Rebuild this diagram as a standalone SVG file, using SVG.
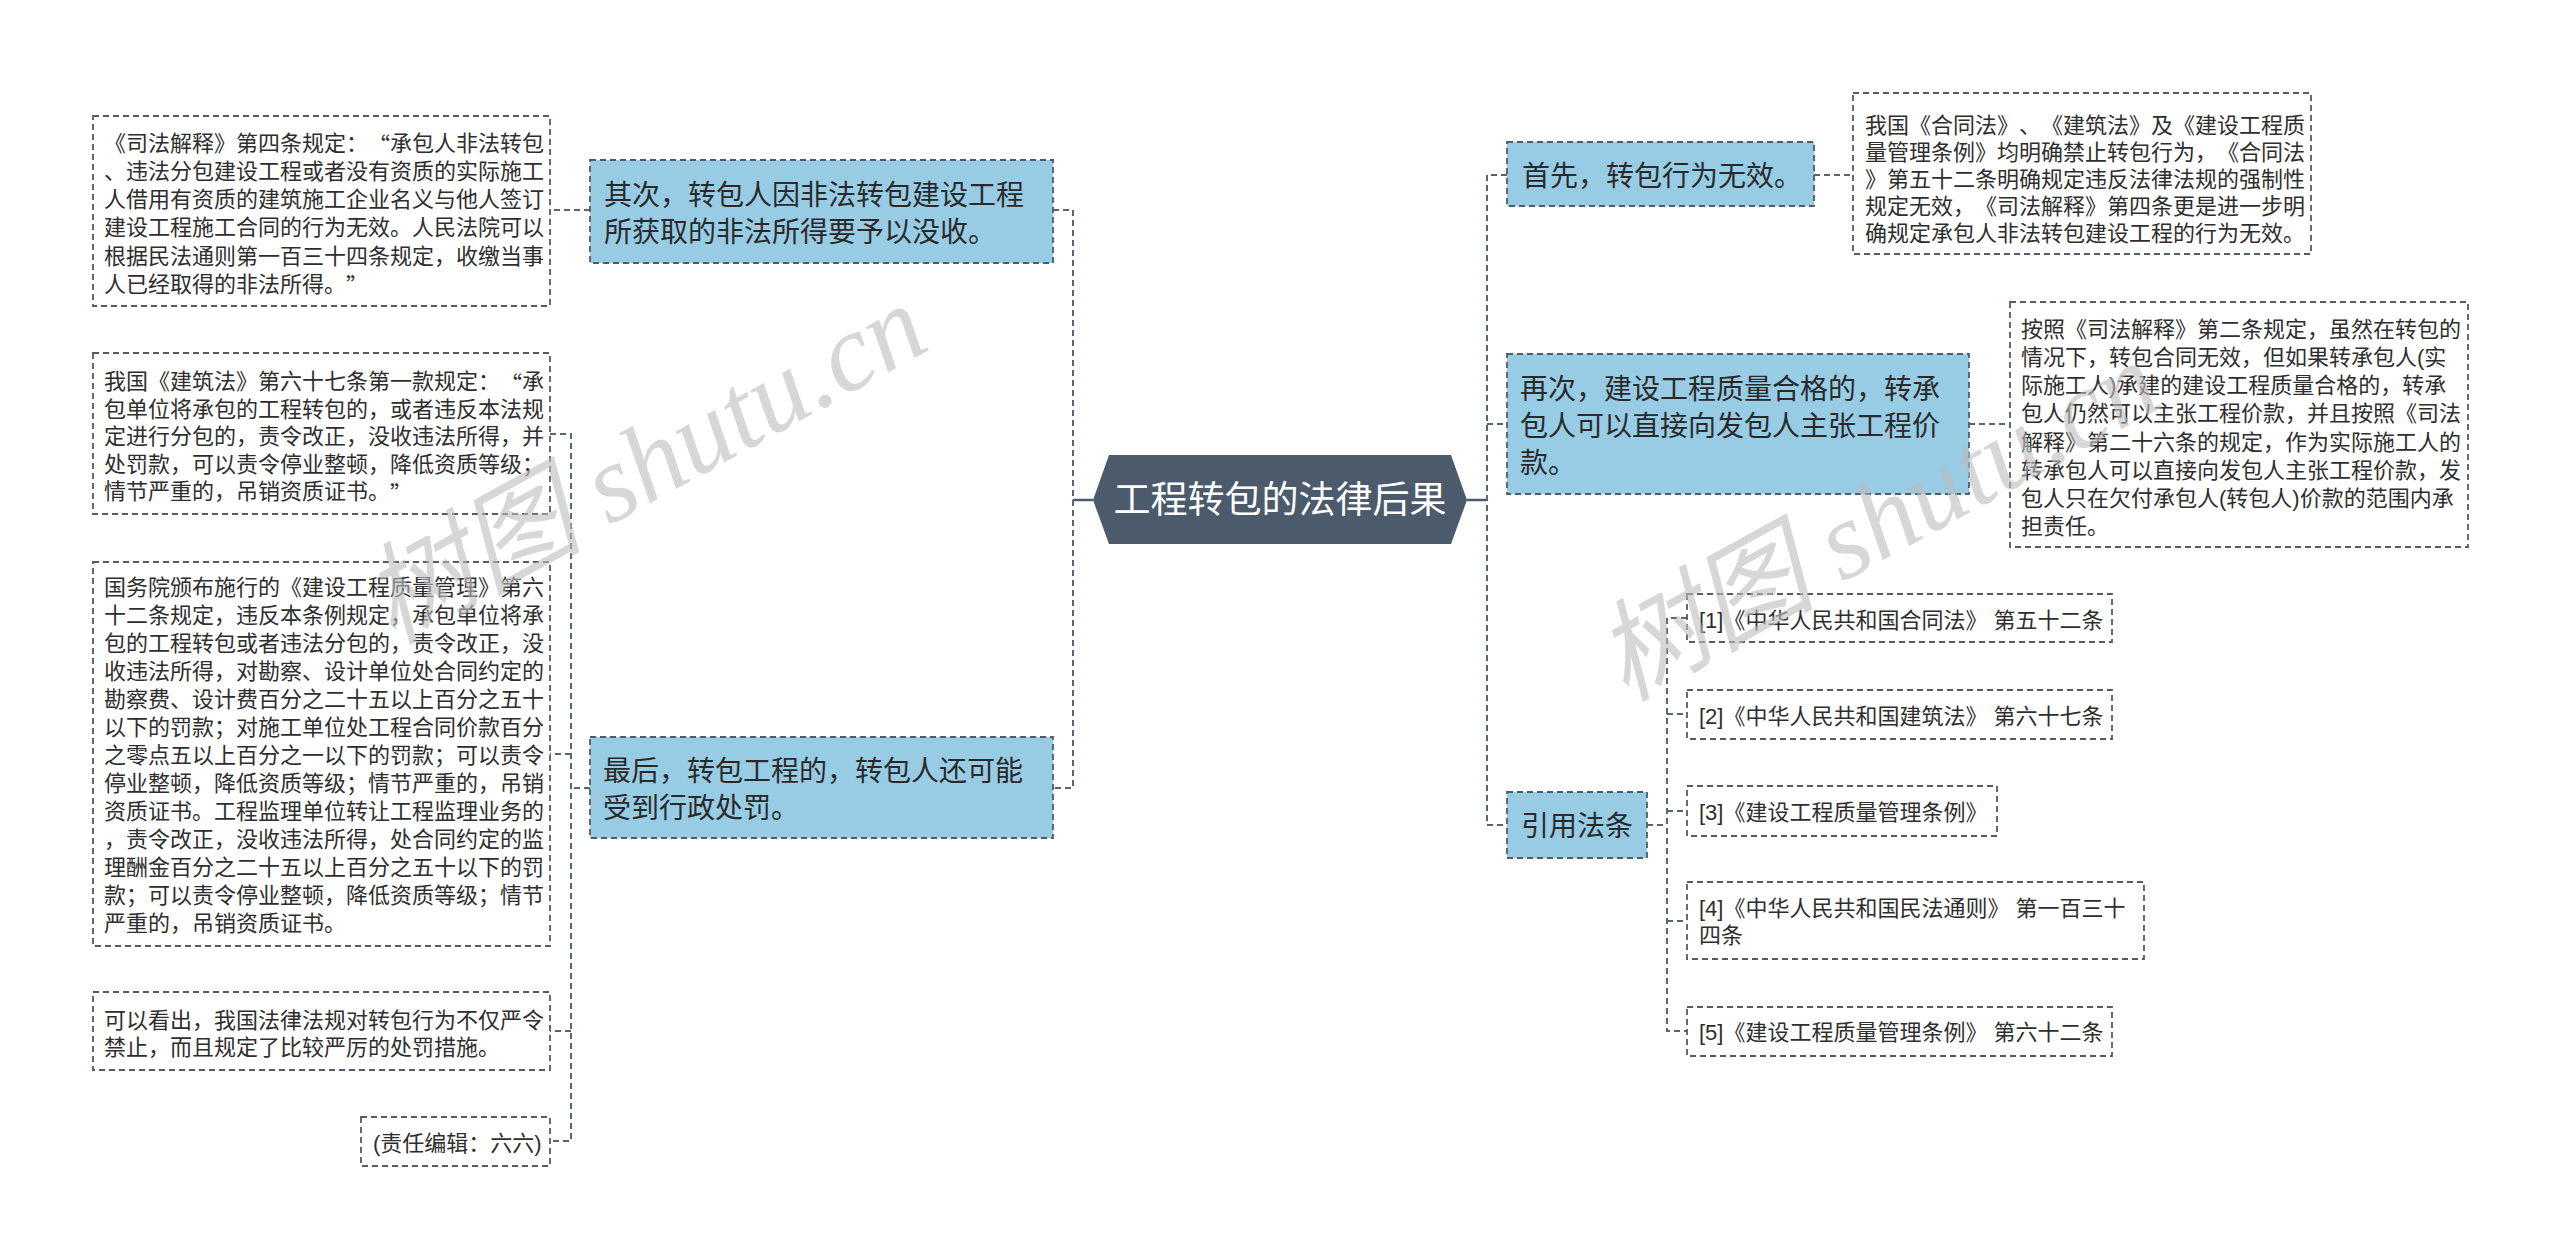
<svg xmlns="http://www.w3.org/2000/svg" width="2560" height="1260" viewBox="0 0 2560 1260">
<style>
.bg{fill:#ffffff}
.box{fill:#ffffff;stroke:#555b62;stroke-width:1.8;stroke-dasharray:6 4}
.main{fill:#98cce4;stroke:#4f5b66;stroke-width:1.8;stroke-dasharray:6 4}
.root{fill:#4c5b6b}
.t{font-family:"Liberation Sans","Noto Sans CJK SC",sans-serif;font-size:22px;fill:#2e2e2e;dominant-baseline:central;text-spacing-trim:space-all}
.q{font-family:"Noto Sans CJK SC",sans-serif}
.tm{font-size:28px;fill:#2a2a2a}
.tr{font-size:37px;fill:#ffffff;text-anchor:middle}
.link{fill:none;stroke:#5a6570;stroke-width:2;stroke-dasharray:6 4}
.solid{fill:none;stroke:#4c5b6b;stroke-width:2.5}
.wm{font-family:"Liberation Serif","Noto Sans CJK SC",serif;font-style:italic;font-size:110px;fill:#bdbdbd;opacity:0.6}
</style>
<rect class="bg" x="0" y="0" width="2560" height="1260"/>

<g id="connectors">
  <path class="solid" d="M1093,500 H1073"/>
  <path class="solid" d="M1467,500 H1487"/>
  <path class="link" d="M1053,210 H1073 V788 H1053"/>
  <path class="link" d="M1507,175 H1487 V825 H1507"/>
  <path class="link" d="M1487,424 H1507"/>
  <path class="link" d="M590,210 H550"/>
  <path class="link" d="M590,788 H571"/>
  <path class="link" d="M550,434 H571 V1141 H550"/>
  <path class="link" d="M571,754 H550"/>
  <path class="link" d="M571,1031 H550"/>
  <path class="link" d="M1814,175 H1853"/>
  <path class="link" d="M1969,424 H2010"/>
  <path class="link" d="M1647,825 H1667"/>
  <path class="link" d="M1687,618 H1667 V1031 H1687"/>
  <path class="link" d="M1667,714 H1687"/>
  <path class="link" d="M1667,811 H1687"/>
  <path class="link" d="M1667,921 H1687"/>
</g>

<g id="root">
  <polygon class="root" points="1093,500 1109,455 1451,455 1467,500 1451,544 1109,544"/>
  <text class="t tr" x="1280" y="500">工程转包的法律后果</text>
</g>

<g id="n-qici">
  <rect class="main" x="590" y="160" width="463" height="103"/>
  <text class="t tm" x="604" y="195">其次，转包人因非法转包建设工程</text>
  <text class="t tm" x="604" y="232">所获取的非法所得要予以没收。</text>
</g>
<g id="n-sifa4">
  <rect class="box" x="93" y="116" width="457" height="190"/>
  <text class="t" x="104" y="143.3">《司法解释》第四条规定：<tspan class="q">“</tspan>承包人非法转包</text>
  <text class="t" x="104" y="171.5">、违法分包建设工程或者没有资质的实际施工</text>
  <text class="t" x="104" y="199.7">人借用有资质的建筑施工企业名义与他人签订</text>
  <text class="t" x="104" y="227.9">建设工程施工合同的行为无效。人民法院可以</text>
  <text class="t" x="104" y="256.1">根据民法通则第一百三十四条规定，收缴当事</text>
  <text class="t" x="104" y="284.3">人已经取得的非法所得。<tspan class="q">”</tspan></text>
</g>

<g id="n-zuihou">
  <rect class="main" x="590" y="737" width="463" height="101"/>
  <text class="t tm" x="603" y="771.7">最后，转包工程的，转包人还可能</text>
  <text class="t tm" x="603" y="808.3">受到行政处罚。</text>
</g>
<g id="n-jianzhufa">
  <rect class="box" x="93" y="353" width="457" height="161"/>
  <text class="t" x="104" y="381.5">我国《建筑法》第六十七条第一款规定：<tspan class="q">“</tspan>承</text>
  <text class="t" x="104" y="409.1">包单位将承包的工程转包的，或者违反本法规</text>
  <text class="t" x="104" y="436.7">定进行分包的，责令改正，没收违法所得，并</text>
  <text class="t" x="104" y="464.3">处罚款，可以责令停业整顿，降低资质等级；</text>
  <text class="t" x="104" y="491.9">情节严重的，吊销资质证书。<tspan class="q">”</tspan></text>
</g>
<g id="n-guowuyuan">
  <rect class="box" x="93" y="562" width="457" height="384"/>
  <text class="t" x="104" y="587.5">国务院颁布施行的《建设工程质量管理》第六</text>
  <text class="t" x="104" y="615.5">十二条规定，违反本条例规定，承包单位将承</text>
  <text class="t" x="104" y="643.5">包的工程转包或者违法分包的，责令改正，没</text>
  <text class="t" x="104" y="671.5">收违法所得，对勘察、设计单位处合同约定的</text>
  <text class="t" x="104" y="699.5">勘察费、设计费百分之二十五以上百分之五十</text>
  <text class="t" x="104" y="727.5">以下的罚款；对施工单位处工程合同价款百分</text>
  <text class="t" x="104" y="755.5">之零点五以上百分之一以下的罚款；可以责令</text>
  <text class="t" x="104" y="783.5">停业整顿，降低资质等级；情节严重的，吊销</text>
  <text class="t" x="104" y="811.5">资质证书。工程监理单位转让工程监理业务的</text>
  <text class="t" x="104" y="839.5">，责令改正，没收违法所得，处合同约定的监</text>
  <text class="t" x="104" y="867.5">理酬金百分之二十五以上百分之五十以下的罚</text>
  <text class="t" x="104" y="895.5">款；可以责令停业整顿，降低资质等级；情节</text>
  <text class="t" x="104" y="923.5">严重的，吊销资质证书。</text>
</g>
<g id="n-kanchu">
  <rect class="box" x="93" y="992" width="457" height="78"/>
  <text class="t" x="104" y="1020">可以看出，我国法律法规对转包行为不仅严令</text>
  <text class="t" x="104" y="1047.5">禁止，而且规定了比较严厉的处罚措施。</text>
</g>
<g id="n-bianji">
  <rect class="box" x="361" y="1117" width="189" height="49"/>
  <text class="t" x="373" y="1143">(责任编辑：六六)</text>
</g>

<g id="n-shouxian">
  <rect class="main" x="1507" y="142" width="307" height="64"/>
  <text class="t tm" x="1522" y="176">首先，转包行为无效。</text>
</g>
<g id="n-hetongfa">
  <rect class="box" x="1853" y="93" width="458" height="161"/>
  <text class="t" x="1865" y="125">我国《合同法》、《建筑法》及《建设工程质</text>
  <text class="t" x="1865" y="152.2">量管理条例》均明确禁止转包行为，《合同法</text>
  <text class="t" x="1865" y="179.4">》第五十二条明确规定违反法律法规的强制性</text>
  <text class="t" x="1865" y="206.6">规定无效，《司法解释》第四条更是进一步明</text>
  <text class="t" x="1865" y="233.8">确规定承包人非法转包建设工程的行为无效。</text>
</g>

<g id="n-zaici">
  <rect class="main" x="1507" y="354" width="462" height="140"/>
  <text class="t tm" x="1520" y="389.5">再次，建设工程质量合格的，转承</text>
  <text class="t tm" x="1520" y="426.5">包人可以直接向发包人主张工程价</text>
  <text class="t tm" x="1520" y="463.5">款。</text>
</g>
<g id="n-anzhao">
  <rect class="box" x="2010" y="302" width="458" height="245"/>
  <text class="t" x="2021" y="329.3">按照《司法解释》第二条规定，虽然在转包的</text>
  <text class="t" x="2021" y="357.5">情况下，转包合同无效，但如果转承包人(实</text>
  <text class="t" x="2021" y="385.7">际施工人)承建的建设工程质量合格的，转承</text>
  <text class="t" x="2021" y="413.9">包人仍然可以主张工程价款，并且按照《司法</text>
  <text class="t" x="2021" y="442.1">解释》第二十六条的规定，作为实际施工人的</text>
  <text class="t" x="2021" y="470.3">转承包人可以直接向发包人主张工程价款，发</text>
  <text class="t" x="2021" y="498.5">包人只在欠付承包人(转包人)价款的范围内承</text>
  <text class="t" x="2021" y="526.7">担责任。</text>
</g>

<g id="n-yinyong">
  <rect class="main" x="1507" y="792" width="140" height="66"/>
  <text class="t tm" x="1521" y="826">引用法条</text>
</g>
<g id="n-ref1">
  <rect class="box" x="1687" y="594" width="425" height="48"/>
  <text class="t" x="1699" y="620">[1]《中华人民共和国合同法》 第五十二条</text>
</g>
<g id="n-ref2">
  <rect class="box" x="1687" y="690" width="425" height="49"/>
  <text class="t" x="1699" y="716">[2]《中华人民共和国建筑法》 第六十七条</text>
</g>
<g id="n-ref3">
  <rect class="box" x="1687" y="786" width="310" height="50"/>
  <text class="t" x="1699" y="812">[3]《建设工程质量管理条例》</text>
</g>
<g id="n-ref4">
  <rect class="box" x="1687" y="882" width="457" height="77"/>
  <text class="t" x="1699" y="908">[4]《中华人民共和国民法通则》 第一百三十</text>
  <text class="t" x="1699" y="935.5">四条</text>
</g>
<g id="n-ref5">
  <rect class="box" x="1687" y="1007" width="425" height="49"/>
  <text class="t" x="1699" y="1032">[5]《建设工程质量管理条例》 第六十二条</text>
</g>

<g id="watermark">
  <text class="wm" x="392" y="645" transform="rotate(-28.8 392 645)">树图 shutu.cn</text>
  <text class="wm" x="1625" y="702" transform="rotate(-28.8 1625 702)">树图 shutu.cn</text>
</g>
</svg>
